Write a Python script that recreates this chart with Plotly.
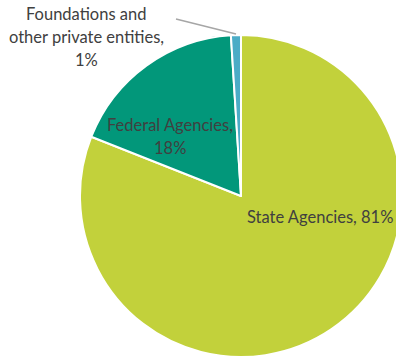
import plotly.graph_objects as go

# Funding sources and their shares (%)
sources = ["State Agencies", "Federal Agencies", "Foundations and other private entities"]
shares = [81, 18, 1]
label_lines = [["State Agencies, {v}%"],
               ["Federal Agencies,", "{v}%"],
               ["Foundations and", "other private entities,", "{v}%"]]
colors = ["#C2D13B", "#02977A", "#4BACC6"]

# Figure canvas is slightly wider than the view so the pie runs off the right edge
W, H = 402, 360
LINE_GAP = 23

fig = go.Figure(go.Pie(
    labels=sources,
    values=shares,
    sort=False,
    direction="clockwise",
    rotation=0,
    textinfo="none",
    hoverinfo="label+percent",
    marker=dict(colors=colors, line=dict(color="white", width=2)),
    domain=dict(x=[80 / W, 1.0], y=[3 / H, 325 / H]),
    showlegend=False,
))

# Label block centres in pixels (x, y from top)
label_pos = [(320, 217), (170, 136.5), (86, 37)]
for lines, v, (px, py) in zip(label_lines, shares, label_pos):
    n = len(lines)
    for i, line in enumerate(lines):
        ly = py + (i - (n - 1) / 2) * LINE_GAP
        fig.add_annotation(
            x=px / W, y=1 - ly / H, xref="paper", yref="paper",
            text=line.format(v=v), showarrow=False,
            xanchor="center", yanchor="middle",
            font=dict(family="Lato", size=16.5, color="#404040"),
        )

# Leader line for the small slice
fig.add_shape(type="line", xref="paper", yref="paper",
              x0=176 / W, y0=1 - 19 / H, x1=236 / W, y1=1 - 34 / H,
              line=dict(color="#A6A6A6", width=1.5))

fig.update_layout(
    width=W, height=H,
    margin=dict(l=0, r=0, t=0, b=0),
    paper_bgcolor="white", plot_bgcolor="white",
)

fig.write_html(
    "out.html",
    post_script="document.documentElement.style.overflow='hidden';"
                "document.body.style.overflow='hidden';",
)
